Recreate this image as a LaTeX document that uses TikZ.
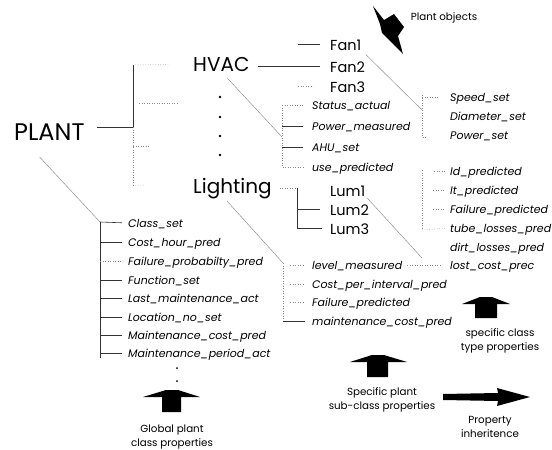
\documentclass[tikz,border=0pt]{standalone}
\usepackage{fontspec}
\setmainfont{Poppins}
\usepackage{xcolor}
\definecolor{inkline}{HTML}{333333}
\definecolor{faintline}{HTML}{8A8A8A}
\usepackage{tikz}
\usetikzlibrary{positioning,calc}

\begin{document}
\begin{tikzpicture}[
  x=1pt,y=-1pt,
  topnode/.style  ={anchor=west,inner sep=0pt,text height=18pt,text depth=0pt,
                    font=\fontsize{24}{24}\selectfont},
  classnode/.style={anchor=west,inner sep=0pt,text height=15pt,text depth=0pt,
                    font=\fontsize{20}{20}\selectfont},
  objnode/.style  ={anchor=west,inner sep=0pt,text height=12pt,text depth=0pt,
                    font=\fontsize{14.5}{14.5}\selectfont},
  prop/.style     ={anchor=west,inner sep=0pt,text height=8pt,text depth=0pt,
                    font=\fontsize{11}{11}\selectfont\itshape},
  note/.style     ={align=center,inner sep=0pt,font=\fontsize{10.3}{14.5}\selectfont},
  tree/.style     ={draw=inkline,line width=0.6pt},
  dotbranch/.style={draw=faintline,line width=0.5pt,dotted},
  diag/.style     ={draw=faintline,line width=0.45pt},
  bigarrow/.style ={fill=black}
]
\useasboundingbox (0,0) rectangle (552,450);

% classes and objects
\node[topnode]   (plant) at (14,131)  {PLANT};
\node[classnode] (hvac)  at (193,64)  {HVAC};
\node[classnode] (light) at (193,186) {Lighting};
\node[objnode]   (fan1)  at (330,44)  {Fan1};
\node[objnode]   (fan2)  at (330,66)  {Fan2};
\node[objnode]   (fan3)  at (330,86)  {Fan3};
\node[objnode]   (lum1)  at (330,190) {Lum1};
\node[objnode]   (lum2)  at (330,209) {Lum2};
\node[objnode]   (lum3)  at (330,228) {Lum3};

\foreach \y in {97,117,136,155}
  \fill (220,\y) circle (1.4);

% global plant class properties
\node[prop] (clsset)  at (128,223) {Class\_set};
\node[prop] (costhr)  at (128,242) {Cost\_hour\_pred};
\node[prop] (failpb)  at (128,261) {Failure\_probabilty\_pred};
\node[prop] (funcset) at (128,280) {Function\_set};
\node[prop] (lastmt)  at (128,298) {Last\_maintenance\_act};
\node[prop] (locno)   at (128,317) {Location\_no\_set};
\node[prop] (mtcost)  at (128,335) {Maintenance\_cost\_pred};
\node[prop] (mtper)   at (128,353) {Maintenance\_period\_act};
\fill (177,368) circle (1);
\fill (177,381) circle (1);

% HVAC sub-class properties
\node[prop] (status)  at (312,105) {Status\_actual};
\node[prop] (powm)    at (312,126) {Power\_measured};
\node[prop] (ahu)     at (312,147) {AHU\_set};
\node[prop] (usepred) at (312,167) {use\_predicted};

% fan type properties
\node[prop] (speed) at (450,97)  {Speed\_set};
\node[prop] (diam)  at (450,116) {Diameter\_set};
\node[prop] (pows)  at (450,135) {Power\_set};

% lum type properties
\node[prop] (idp)   at (450,171) {Id\_predicted};
\node[prop] (itp)   at (450,190) {It\_predicted};
\node[prop] (failr) at (450,209) {Failure\_predicted};
\node[prop] (tube)  at (450,228) {tube\_losses\_pred};
\node[prop] (dirt)  at (450,247) {dirt\_losses\_pred};
\node[prop] (lost)  at (450,265) {lost\_cost\_prec};

% lighting sub-class properties
\node[prop] (level) at (312,265) {level\_measured};
\node[prop] (cpi)   at (312,284) {Cost\_per\_interval\_pred};
\node[prop] (faill) at (312,302) {Failure\_predicted};
\node[prop] (mcp)   at (312,321) {maintenance\_cost\_pred};

% bars of the trees
\coordinate (pa) at (133,65);
\coordinate (pj) at (133,127);
\coordinate (pb) at (133,185);
\coordinate (gap1) at (178,103);
\coordinate (gap2) at (150,146);
\coordinate (fb) at (298,66);
\coordinate (hb) at (282,105);
\coordinate (hd) at (282,137);
\coordinate (sb) at (422,95);
\coordinate (sd) at (422,110);
\coordinate (se) at (422,137);
\coordinate (sf) at (427,137);
\coordinate (lb) at (297,188);
\coordinate (ub) at (422,170);
\coordinate (ue) at (422,230);
\coordinate (ld) at (422,258);
\coordinate (gb) at (283,263);
\coordinate (gc) at (100,222);
\coordinate (gz) at (100,358);

% PLANT to its classes
\draw[tree,shorten <=12pt] (plant.east |- pj) -- (pj);
\draw[tree] (pa) -- (pj);
\draw[dotbranch] (pj) -- (pb);
\draw[dotbranch,shorten >=25pt] (pa) -- (hvac.west);
\draw[dotbranch,shorten <=6pt] (pj |- gap1) -- (gap1);
\draw[dotbranch] (pj |- gap2) -- (gap2);
\draw[dotbranch,shorten >=48pt] (pb) -- (light.west);

% HVAC to fans
\draw[tree,shorten <=8pt,shorten >=10pt] (hvac.east |- fan2) -- (fan2.west);
\draw[tree,shorten >=10pt] (fb |- fan1) -- (fan1.west);
\draw[dotbranch,shorten >=17pt] (fb |- fan3) -- (fan3.west);

% HVAC properties
\draw[diag,shorten <=9pt] (hvac.south) -- (hd);
\draw[dotbranch,shorten >=9pt] (hb) -- (hb |- usepred) -- (usepred.west);
\draw[dotbranch,shorten >=9pt] (hb) -- (status.west);
\draw[tree,shorten >=9pt] (hb |- powm) -- (powm.west);
\draw[tree,shorten >=9pt] (hb |- ahu) -- (ahu.west);

% fan properties
\draw[diag,shorten <=6pt] (fan1.south east) -- (sd);
\draw[dotbranch] (sb) -- (se) -- (sf);
\draw[dotbranch,shorten >=12pt] (sb |- speed) -- (speed.west);

% Lighting to lums
\draw[dotbranch,shorten <=8pt] (light.east |- lb) -- (lb);
\draw[tree,shorten >=8pt] (lb) -- (lb |- lum3) -- (lum3.west);
\draw[tree,shorten >=10pt] (lb |- lum2) -- (lum2.west);

% lum properties
\draw[diag,shorten <=2pt] (lum1.south east) -- (ld);
\draw[dotbranch] (ub) -- (ue);
\draw[dotbranch,shorten >=5pt] (ue) -- (tube.west);
\draw[dotbranch,shorten <=12pt,shorten >=4pt] (ub |- idp) -- (idp.west);
\draw[dotbranch,shorten <=11pt,shorten >=5pt] (ub |- itp) -- (itp.west);
\draw[dotbranch,shorten <=11pt,shorten >=5pt] (ub |- failr) -- (failr.west);
\draw[dotbranch,shorten <=5pt,shorten >=8pt] (level.east) -- (lost.west);

% Lighting properties
\draw[diag,shorten <=10pt] ($(light.south)+(-12,0)$) -- (gb);
\draw[dotbranch] (gb) -- (gb |- mcp);
\draw[tree,shorten >=7pt] (gb |- mcp) -- (mcp.west);
\draw[dotbranch,shorten <=7pt,shorten >=8pt] (gb |- level) -- (level.west);
\draw[dotbranch,shorten <=7pt,shorten >=8pt] (gb |- cpi) -- (cpi.west);
\draw[dotbranch,shorten <=7pt,shorten >=8pt] (gb |- faill) -- (faill.west);

% PLANT properties
\draw[diag,shorten <=23pt] ($(plant.south west)+(10,0)$) -- (gc);
\draw[tree] (gc) -- (gz);
\draw[tree,shorten >=6pt] (gc) -- (clsset.west);
\draw[tree,shorten >=6pt] (gc |- costhr) -- (costhr.west);
\draw[dotbranch,shorten >=6pt] (gc |- failpb) -- (failpb.west);
\draw[tree,shorten >=6pt] (gc |- funcset) -- (funcset.west);
\draw[tree,shorten >=6pt] (gc |- lastmt) -- (lastmt.west);
\draw[tree,shorten >=6pt] (gc |- locno) -- (locno.west);
\draw[tree,shorten >=6pt] (gc |- mtcost) -- (mtcost.west);
\draw[tree,shorten >=6pt] (gc |- mtper) -- (mtper.west);

% block arrows and their notes
\fill[bigarrow] (373,6) -- (384,20) -- (394,14) -- (404,27) -- (398,36) -- (403,54)
  -- (389,40) -- (382,33) -- (380,24) -- cycle;
\node[note] (objtxt) at (444,18) {Plant objects};

\fill[bigarrow] (166,390) -- (178,390) -- (200,397) -- (181,397) -- (181,412)
  -- (162,412) -- (162,397) -- (143,397) -- cycle;
\node[note] (globtxt) at (172,437) {Global plant\\class properties};

\fill[bigarrow] (372,355) -- (384,355) -- (407,362) -- (388,362) -- (388,377)
  -- (367,377) -- (367,362) -- (350,362) -- cycle;
\node[note] (subtxt) at (382,400) {Specific plant\\sub-class properties};

\fill[bigarrow] (480,297) -- (492,297) -- (510,304) -- (497,304) -- (497,318)
  -- (475,318) -- (475,304) -- (462,304) -- cycle;
\node[note] (typetxt) at (500,341) {specific class\\type properties};

\fill[bigarrow] (443,394) -- (498,393) -- (497,388) -- (530,397) -- (497,406)
  -- (498,401) -- (443,400) -- cycle;
\node[note] (inhtxt) at (490,427) {Property\\inheritence};

\end{tikzpicture}
\end{document}
